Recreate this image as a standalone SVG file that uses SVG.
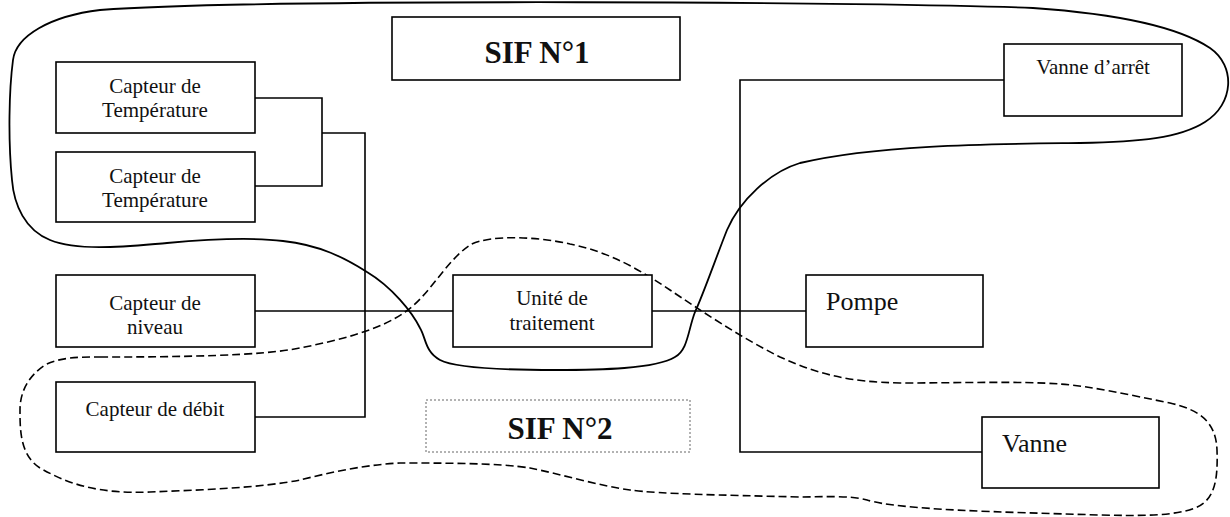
<svg xmlns="http://www.w3.org/2000/svg" width="1230" height="517" viewBox="0 0 1230 517">
  <style>
    .box { fill: #fff; stroke: #000; stroke-width: 1.6; }
    .wire { fill: none; stroke: #000; stroke-width: 1.6; }
    .t { font-family: "Liberation Serif", "Times New Roman", serif; font-size: 21px; fill: #111; text-anchor: middle; }
    .tl { font-family: "Liberation Serif", "Times New Roman", serif; font-size: 26px; fill: #111; }
    .title { font-family: "Liberation Serif", "Times New Roman", serif; font-size: 31px; font-weight: bold; fill: #111; text-anchor: middle; }
    .sif1 { fill: none; stroke: #000; stroke-width: 1.8; }
    .sif2 { fill: none; stroke: #000; stroke-width: 1.6; stroke-dasharray: 8 4; }
  </style>
  <rect width="1230" height="517" fill="#fff"/>

  <!-- connectors -->
  <g id="connectors">
    <!-- temperature sensors bracket -->
    <polyline class="wire" points="255,98 322,98 322,186 255,186"/>
    <polyline class="wire" points="322,133 365,133 365,417 255,417"/>
    <!-- level sensor to processing unit -->
    <line class="wire" x1="255" y1="311" x2="453" y2="311"/>
    <!-- processing unit to pump -->
    <line class="wire" x1="652" y1="311" x2="806" y2="311"/>
    <!-- valve bus -->
    <polyline class="wire" points="1004,80 740,80 740,452 982,452"/>
  </g>

  <!-- SIF 1 boundary -->
  <path id="sif1-boundary" class="sif1" d="M 100,10 C 260,-2 900,2 1033,8 C 1120,14 1180,28 1210,48 C 1236,66 1234,104 1205,122 C 1180,138 1140,142 1080,143 C 1000,144 880,144 800,163 C 770,172 740,200 727,230 C 717,255 703,295 695,312 C 688,330 688,350 675,357 C 655,369 600,370 555,370 C 500,370 455,368 440,360 C 425,352 426,338 420,328 C 412,312 392,287 367,272 C 345,258 320,245 283,241 C 250,237 200,240 167,243 C 130,246 80,252 50,240 C 25,230 14,205 12,180 C 8,140 9,90 13,60 C 16,36 50,16 100,10 Z"/>

  <!-- SIF 2 boundary -->
  <path id="sif2-boundary" class="sif2" d="M 100,357 C 180,357 260,356 300,348 C 340,340 380,330 405,312 C 430,295 445,262 470,245 C 490,234 540,237 570,244 C 610,252 640,270 670,290 C 700,310 740,337 780,357 C 820,375 850,382 900,383 C 960,383 1020,381 1060,384 C 1090,386 1130,395 1170,403 C 1200,410 1216,422 1217,450 C 1218,480 1215,500 1195,508 C 1175,516 1140,516 1100,515 C 1000,512 900,510 867,500 C 850,495 820,497 800,497 C 720,495 660,494 630,490 C 600,486 560,474 530,468 C 500,463 440,463 400,463 C 360,465 320,475 300,480 C 260,488 200,490 150,492 C 100,494 70,485 40,468 C 20,455 20,430 20,410 C 20,390 30,375 45,365 C 60,357 80,357 100,357 Z"/>

  <!-- titles -->
  <g id="sif1-label">
    <rect class="box" x="392" y="17" width="288" height="63"/>
    <text class="title" x="537" y="63">SIF N°1</text>
  </g>
  <g id="sif2-label">
    <rect x="426" y="400" width="264" height="52" fill="none" stroke="#666" stroke-width="1" stroke-dasharray="2 2"/>
    <text class="title" x="560" y="439">SIF N°2</text>
  </g>

  <!-- sensors -->
  <g id="temp-sensor-1">
    <rect class="box" x="56" y="62" width="199" height="71"/>
    <text class="t" x="155" y="93">Capteur de</text>
    <text class="t" x="155" y="117">Température</text>
  </g>
  <g id="temp-sensor-2">
    <rect class="box" x="56" y="152" width="199" height="70"/>
    <text class="t" x="155" y="183">Capteur de</text>
    <text class="t" x="155" y="207">Température</text>
  </g>
  <g id="level-sensor">
    <rect class="box" x="56" y="275" width="199" height="72"/>
    <text class="t" x="155" y="310">Capteur de</text>
    <text class="t" x="155" y="334">niveau</text>
  </g>
  <g id="flow-sensor">
    <rect class="box" x="56" y="382" width="199" height="70"/>
    <text class="t" x="155" y="416">Capteur de débit</text>
  </g>

  <!-- logic solver -->
  <g id="processing-unit">
    <rect class="box" x="453" y="275" width="199" height="72"/>
    <text class="t" x="552" y="305">Unité de</text>
    <text class="t" x="552" y="330">traitement</text>
  </g>

  <!-- final elements -->
  <g id="shutoff-valve">
    <rect class="box" x="1004" y="44" width="178" height="72"/>
    <text class="t" x="1093" y="74">Vanne d’arrêt</text>
  </g>
  <g id="pump">
    <rect class="box" x="806" y="275" width="177" height="72"/>
    <text class="tl" x="826" y="310">Pompe</text>
  </g>
  <g id="valve">
    <rect class="box" x="982" y="417" width="177" height="71"/>
    <text class="tl" x="1002" y="452">Vanne</text>
  </g>
</svg>
